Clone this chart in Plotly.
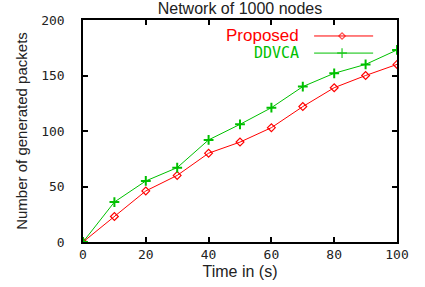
import plotly.graph_objects as go

time_s = [0, 10, 20, 30, 40, 50, 60, 70, 80, 90, 100]
proposed = [0, 23, 46, 60, 80, 90, 103, 122, 139, 150, 160]
ddvca = [0, 36, 55, 67, 92, 106, 121, 140, 152, 160, 173]
x_ticks = [0, 20, 40, 60, 80, 100]
y_ticks = [0, 50, 100, 150, 200]

RED = "#ff0000"
GREEN = "#00c000"
mono = "DejaVu Sans Mono"
sans = "Liberation Sans"

fig = go.Figure()
fig.add_trace(go.Scatter(x=time_s, y=proposed, mode="lines+markers", name="Proposed",
                         line=dict(color=RED, width=1),
                         marker=dict(symbol="diamond-open", size=6, color=RED, line=dict(width=1.2))))
fig.add_trace(go.Scatter(x=time_s, y=ddvca, mode="lines+markers", name="DDVCA",
                         line=dict(color=GREEN, width=1),
                         marker=dict(symbol="cross-thin-open", size=7, color=GREEN, line=dict(width=2, color=GREEN))))

# legend samples (gnuplot style: text left, sample right)
fig.add_trace(go.Scatter(x=[0.736, 0.825, 0.924], y=[0.928, 0.928, 0.928], xaxis="x2", yaxis="y2",
                         mode="lines+markers", line=dict(color=RED, width=1),
                         marker=dict(symbol="diamond-open", size=[0, 5, 0], color=RED, line=dict(width=1.2)),
                         showlegend=False, hoverinfo="skip"))
fig.add_trace(go.Scatter(x=[0.736, 0.825, 0.924], y=[0.851, 0.851, 0.851], xaxis="x2", yaxis="y2",
                         mode="lines+markers", line=dict(color=GREEN, width=1),
                         marker=dict(symbol="cross-thin-open", size=[0, 7, 0], color=GREEN, line=dict(width=1.5, color=GREEN)),
                         showlegend=False, hoverinfo="skip"))

fig.add_annotation(text="Proposed", x=0.694, y=0.928, xref="paper", yref="paper",
                   xanchor="right", yanchor="middle", showarrow=False,
                   font=dict(family=sans, size=17, color=RED))
fig.add_annotation(text="DDVCA", x=0.694, y=0.851, xref="paper", yref="paper",
                   xanchor="right", yanchor="middle", showarrow=False,
                   font=dict(family=mono, size=15, color=GREEN))

axis_common = dict(showline=True, linecolor="black", linewidth=1.5, mirror="ticks",
                   ticks="inside", ticklen=5, tickcolor="black", tickwidth=1.5,
                   showgrid=False, zeroline=False, automargin=False,
                   tickfont=dict(family=mono, size=13, color="#222"))

fig.update_layout(
    width=425, height=287,
    margin=dict(l=83, r=28, t=20, b=45),
    paper_bgcolor="white", plot_bgcolor="white",
    showlegend=False,
    title=dict(text="Network of 1000 nodes", x=0.5, xref="paper", y=0.969, yanchor="middle",
               font=dict(family=sans, size=16, color="#222")),
    xaxis=dict(range=[0, 100], tickvals=x_ticks,
               title=dict(text="Time in (s)", font=dict(family=sans, size=16, color="#222"), standoff=4),
               **axis_common),
    yaxis=dict(range=[0, 200], tickvals=y_ticks,
               title=dict(text="Number of generated packets", font=dict(family=sans, size=15, color="#222"), standoff=10),
               ticklabelstandoff=14,
               **axis_common),
    xaxis2=dict(range=[0, 1], overlaying="x", visible=False),
    yaxis2=dict(range=[0, 1], overlaying="y", visible=False),
)

fig.write_html("out.html", config={"displayModeBar": False},
               post_script="document.body.style.margin='0';")
